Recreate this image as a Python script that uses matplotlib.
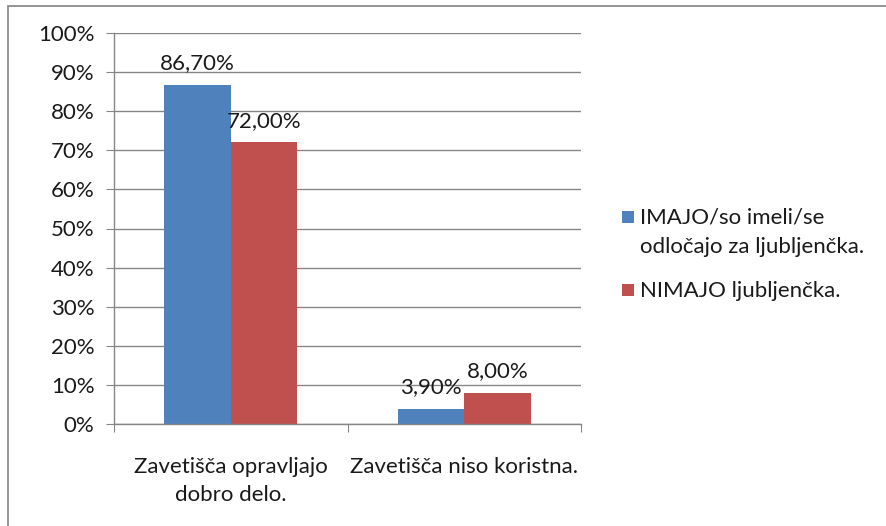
import matplotlib
matplotlib.use("Agg")
import matplotlib.pyplot as plt
from matplotlib.patches import Rectangle
import numpy as np

categories = ["Zavetišča opravljajo\ndobro delo.", "Zavetišča niso koristna."]
series_names = ["IMAJO/so imeli/se\nodločajo za ljubljenčka.", "NIMAJO ljubljenčka."]
imajo = [86.7, 3.9]
nimajo = [72.0, 8.0]
label_imajo = ["86,70%", "3,90%"]
label_nimajo = ["72,00%", "8,00%"]
yticks = [0, 10, 20, 30, 40, 50, 60, 70, 80, 90, 100]

plt.rcParams['font.family'] = ['Lato', 'DejaVu Sans']
blue = "#4F81BD"
red = "#C0504D"
grid_c = "#868686"
txt_c = "#1a1a1a"
fs = 16

fig = plt.figure(figsize=(8.86, 5.26), dpi=100)
fig.patch.set_facecolor("white")
fig.patches.append(Rectangle((8/886, -0.05), 1.2, 1 - 6/526 + 0.05, transform=fig.transFigure,
                             fill=False, edgecolor="#8c8c8c", linewidth=1.3))

ax = fig.add_axes([114/886, 1 - 424/526, (581 - 114)/886, (424 - 33)/526])
x = np.arange(len(categories))
w = 0.285
b1 = ax.bar(x - w/2, imajo, w, color=blue, label=series_names[0])
b2 = ax.bar(x + w/2, nimajo, w, color=red, label=series_names[1])

for rect, lab in zip(b1, label_imajo):
    ax.text(rect.get_x() + rect.get_width()/2, rect.get_height() + 3.0, lab,
            ha="center", va="bottom", fontsize=fs, color=txt_c)
for rect, lab in zip(b2, label_nimajo):
    ax.text(rect.get_x() + rect.get_width()/2, rect.get_height() + 3.0, lab,
            ha="center", va="bottom", fontsize=fs, color=txt_c)

ax.set_xlim(-0.5, 1.5)
ax.set_ylim(0, 100)
ax.set_yticks(yticks)
ax.set_yticklabels([f"{v}%" for v in yticks], fontsize=fs, color=txt_c)
ax.yaxis.grid(True, color=grid_c, linewidth=1)
ax.set_axisbelow(True)
ax.set_xticks([-0.5, 0.5, 1.5])
ax.set_xticklabels([])
ax.set_xticks(x, minor=True)
ax.set_xticklabels(categories, minor=True, fontsize=fs, color=txt_c, ha="center", va="top",
                   linespacing=1.45)
ax.tick_params(axis="x", which="minor", length=0, pad=24)
ax.tick_params(axis="x", which="major", length=6, color=grid_c, direction="out")
ax.tick_params(axis="y", length=6, color=grid_c, direction="out", pad=8)
for s in ["top", "right"]:
    ax.spines[s].set_visible(False)
for s in ["left", "bottom"]:
    ax.spines[s].set_color(grid_c)
    ax.spines[s].set_linewidth(1)

# legend (drawn manually to match layout)
W, H = 886, 526
sq = 12
leg_items = [(blue, series_names[0], 217), (red, series_names[1], 290)]
for col, name, yc in leg_items:
    fig.patches.append(Rectangle((622/W, 1 - (yc + sq/2)/H), sq/W, sq/H,
                                 transform=fig.transFigure, facecolor=col, edgecolor="none"))
    fig.text(640/W, 1 - (yc - 9)/H, name, fontsize=fs, color=txt_c, ha="left", va="top",
             linespacing=1.55)

fig.savefig("out.png", dpi=100)
